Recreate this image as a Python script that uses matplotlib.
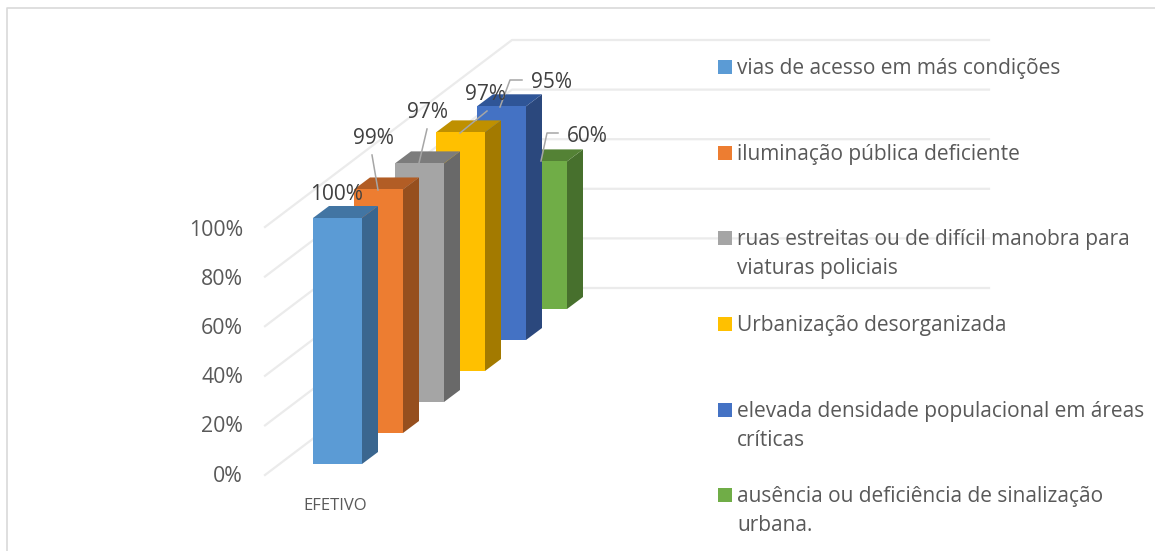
import matplotlib
matplotlib.use("Agg")
import matplotlib.pyplot as plt
from matplotlib.patches import Polygon, Rectangle

plt.rcParams['font.family'] = ['Open Sans', 'DejaVu Sans']

category = "EFETIVO"
series_names = [
    "vias de acesso em más condições",
    "iluminação pública deficiente",
    "ruas estreitas ou de difícil manobra para\nviaturas policiais",
    "Urbanização desorganizada",
    "elevada densidade populacional em áreas\ncríticas",
    "ausência ou deficiência de sinalização\nurbana.",
]
values = [100, 99, 97, 97, 95, 60]
value_labels = ["100%", "99%", "97%", "97%", "95%", "60%"]
ticks = [0, 20, 40, 60, 80, 100]
tick_labels = ["0%", "20%", "40%", "60%", "80%", "100%"]
front_colors = ["#5B9BD5", "#ED7D31", "#A5A5A5", "#FFC000", "#4472C4", "#70AD47"]
side_colors = ["#3A668F", "#964F1E", "#696969", "#A37A00", "#2B487D", "#47702D"]
top_colors = ["#4275A3", "#B25D25", "#7C7C7C", "#BF9000", "#2F5597", "#548235"]

TEXT = "#595959"
GRID = "#EBEBEB"

# 3d look: pixels moved per series, per percent and for the bar depth
STEP_X, STEP_Y = 41, -31
PX_PER_PCT = 2.46
BAR_W, DEPTH_X, DEPTH_Y = 49, 16, -12


def bar_point(i, v):
    return 313 + STEP_X * i, 464 + STEP_Y * i - PX_PER_PCT * v


fig = plt.figure(figsize=(11.55, 5.51), dpi=100)
ax = fig.add_axes([0, 0, 1, 1])
ax.set_xlim(0, 1155)
ax.set_ylim(551, 0)
ax.axis("off")

# chart frame, cut off at the right and bottom of the picture
ax.plot([7, 7, 1155], [551, 8, 8], color="#D9D9D9", lw=1.2)

# gridlines on the left wall and the back wall
for t, lab in zip(ticks, tick_labels):
    y_back = 288 - 2.48 * t
    y_front = y_back + 187
    ax.plot([265, 512, 989], [y_front, y_back, y_back], color=GRID, lw=1.6, zorder=1)
    ax.text(243, 476 - 2.46 * t, lab, ha="right", va="center", color=TEXT, fontsize=15.3)

# bars from back to front
for i in range(len(values) - 1, -1, -1):
    x, y0 = bar_point(i, 0)
    _, y1 = bar_point(i, values[i])
    z = 10 + (len(values) - i)
    ax.add_patch(Polygon([(x + BAR_W, y0), (x + BAR_W + DEPTH_X, y0 + DEPTH_Y),
                          (x + BAR_W + DEPTH_X, y1 + DEPTH_Y), (x + BAR_W, y1)],
                         color=side_colors[i], lw=0, zorder=z))
    ax.add_patch(Polygon([(x, y1), (x + BAR_W, y1), (x + BAR_W + DEPTH_X, y1 + DEPTH_Y),
                          (x + DEPTH_X, y1 + DEPTH_Y)],
                         color=top_colors[i], lw=0, zorder=z))
    ax.add_patch(Rectangle((x, y1), BAR_W, y0 - y1, color=front_colors[i], lw=0, zorder=z))

# data labels with their leader lines
label_pos = [(337, 194), (373, 139), (427, 113), (486, 95), (552, 83), (587, 136)]
leaders = [
    None,
    [(372, 155), (378, 190)],
    [(427, 129), (419, 163)],
    [(487, 111), (460, 133)],
    [(522, 80), (510, 80), (500, 107)],
    [(558, 133), (547, 133), (541, 161)],
]
for lab, pos, lead in zip(value_labels, label_pos, leaders):
    if lead:
        ax.plot([p[0] for p in lead], [p[1] for p in lead], color="#A6A6A6", lw=1.1, zorder=30)
    ax.text(pos[0], pos[1], lab, ha="center", va="center", color="#404040", fontsize=15, zorder=31)

ax.text(335, 506, category, ha="center", va="center", color=TEXT, fontsize=12)

# legend
legend_y = [67, 153, 238, 324, 410, 495]
for name, c, y in zip(series_names, front_colors, legend_y):
    ax.add_patch(Rectangle((718, y - 7), 14, 14, color=c, lw=0, zorder=32))
    ax.text(737, y - 9, name, ha="left", va="top", color=TEXT, fontsize=15,
            linespacing=1.5, zorder=32)

fig.savefig("out.png", dpi=100)
